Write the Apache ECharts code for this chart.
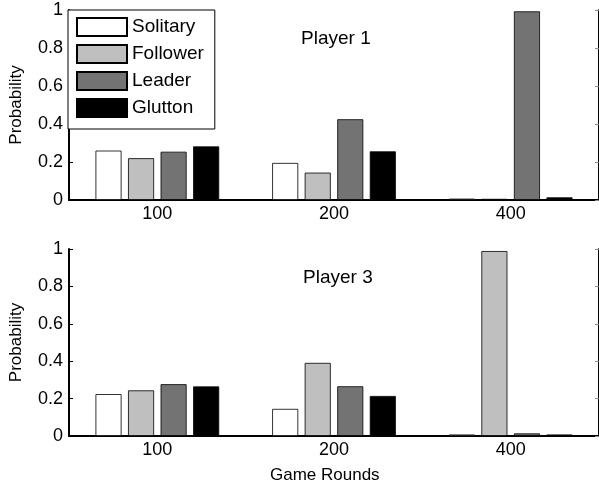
<!DOCTYPE html>
<html><head><meta charset="utf-8">
<script src="https://cdn.jsdelivr.net/npm/echarts@6/dist/echarts.min.js"></script>
<style>html,body{margin:0;padding:0;background:#fff}#c{width:599px;height:491px}</style>
</head><body><div id="c"></div>
<script>
const categories = ['100', '200', '400'];
const seriesNames = ['Solitary', 'Follower', 'Leader', 'Glutton'];
const p1Solitary = [0.26, 0.195, 0.007];
const p1Follower = [0.22, 0.144, 0.006];
const p1Leader = [0.254, 0.425, 0.993];
const p1Glutton = [0.282, 0.256, 0.014];
const p3Solitary = [0.224, 0.145, 0.008];
const p3Follower = [0.244, 0.391, 0.989];
const p3Leader = [0.277, 0.266, 0.014];
const p3Glutton = [0.265, 0.214, 0.008];
const colors = ['#ffffff', '#bfbfbf', '#737373', '#000000'];
const FONT = '"Liberation Sans", Arial, sans-serif';

const chart = echarts.init(document.getElementById('c'), null, {renderer: 'canvas'});
const grids = [
  {left: 68, top: 10, width: 534, height: 190},
  {left: 68, top: 249, width: 534, height: 187}
];
const xAxes = [], yAxes = [];
grids.forEach((g, i) => {
  xAxes.push({type: 'category', gridIndex: i, data: categories, position: 'bottom',
    axisLine: {lineStyle: {color: '#000', width: 2}},
    axisTick: {alignWithLabel: true, inside: true, length: 4, lineStyle: {color: '#000'}},
    axisLabel: {color: '#000', fontSize: 18, fontFamily: FONT, margin: 5},
    splitLine: {show: false}});
  xAxes.push({type: 'category', gridIndex: i, data: categories, position: 'top',
    axisLine: {lineStyle: {color: '#000', width: 2}},
    axisTick: {alignWithLabel: true, inside: true, length: 4, lineStyle: {color: '#000'}},
    axisLabel: {show: false}, splitLine: {show: false}});
  yAxes.push({type: 'value', gridIndex: i, min: 0, max: 1, interval: 0.2, position: 'left',
    name: 'Probability', nameLocation: 'middle', nameGap: 44,
    nameTextStyle: {color: '#000', fontSize: 17, fontFamily: FONT},
    axisLine: {show: true, lineStyle: {color: '#000', width: 2}},
    axisTick: {show: true, inside: true, length: 4, lineStyle: {color: '#000'}},
    axisLabel: {color: '#000', fontSize: 18, fontFamily: FONT, margin: 6},
    splitLine: {show: false}});
  yAxes.push({type: 'value', gridIndex: i, min: 0, max: 1, interval: 0.2, position: 'right',
    axisLine: {show: true, lineStyle: {color: '#000', width: 2}},
    axisTick: {show: true, inside: true, length: 4, lineStyle: {color: '#888'}},
    axisLabel: {show: false}, splitLine: {show: false}});
});

const p1 = [p1Solitary, p1Follower, p1Leader, p1Glutton];
const p3 = [p3Solitary, p3Follower, p3Leader, p3Glutton];
const series = [];
[p1, p3].forEach((set, gi) => {
  set.forEach((vals, si) => {
    series.push({type: 'bar', name: seriesNames[si], data: vals,
      xAxisIndex: gi * 2, yAxisIndex: gi * 2,
      barCategoryGap: '30%', barGap: '25%',
      itemStyle: {color: colors[si], borderColor: '#000', borderWidth: 0.8},
      emphasis: {disabled: true}, animation: false});
  });
});

chart.setOption({
  animation: false,
  backgroundColor: '#fff',
  grid: grids,
  xAxis: xAxes,
  yAxis: yAxes,
  legend: {orient: 'vertical', left: 68, top: 10, data: seriesNames,
    icon: 'rect', itemWidth: 50, itemHeight: 18, itemGap: 7, itemTextGap: 5,
    padding: [7, 11, 11, 8], borderColor: '#000', borderWidth: 1, backgroundColor: '#fff',
    textStyle: {color: '#000', fontSize: 19, fontFamily: FONT}, selectedMode: false},
  graphic: [
    {type: 'text', left: 301, top: 29, style: {text: 'Player 1', fill: '#000', font: '19px ' + FONT}},
    {type: 'text', left: 303, top: 268, style: {text: 'Player 3', fill: '#000', font: '19px ' + FONT}},
    {type: 'text', left: 270, top: 467, style: {text: 'Game Rounds', fill: '#000', font: '17px ' + FONT}}
  ],
  series: series
});
</script></body></html>
